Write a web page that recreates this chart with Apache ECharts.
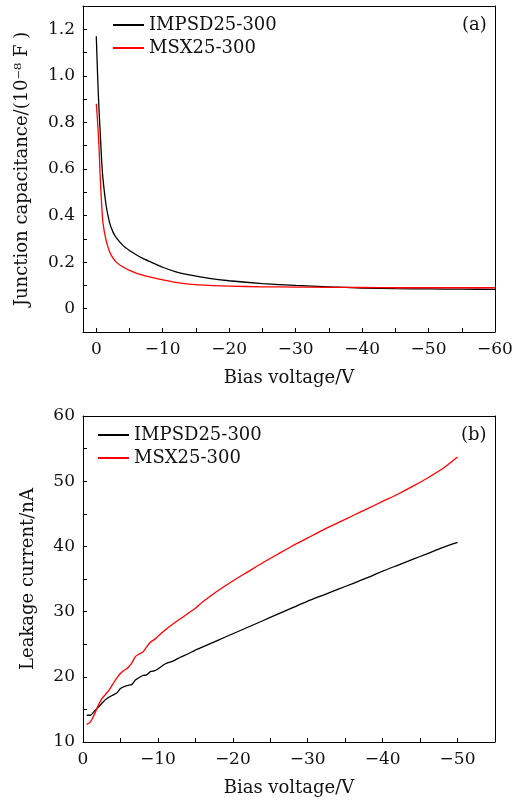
<!DOCTYPE html>
<html><head><meta charset="utf-8">
<script src="https://cdn.jsdelivr.net/npm/echarts@6/dist/echarts.min.js"></script>
<style>html,body{margin:0;padding:0;background:#fff}#c{width:527px;height:800px}</style>
</head><body><div id="c"></div>
<script>
// Panel (a): junction capacitance vs bias voltage
const capVoltage = [0, -0.2, -0.4, -0.6, -0.8, -1, -1.5, -2, -2.5, -3, -4, -5, -6, -7, -8, -10, -12, -14, -17, -20, -25, -30, -35, -40, -45, -50, -55, -60];
const capIMPSD = [1.17, 1.0, 0.86, 0.75, 0.64, 0.56, 0.44, 0.37, 0.33, 0.305, 0.272, 0.25, 0.232, 0.216, 0.203, 0.178, 0.158, 0.145, 0.13, 0.12, 0.108, 0.1, 0.094, 0.089, 0.086, 0.085, 0.084, 0.083];
const capMSX = [0.88, 0.8, 0.7, 0.56, 0.45, 0.37, 0.29, 0.245, 0.218, 0.2, 0.179, 0.165, 0.153, 0.144, 0.137, 0.124, 0.113, 0.106, 0.1, 0.097, 0.094, 0.093, 0.092, 0.091, 0.09, 0.09, 0.09, 0.09];
// Panel (b): leakage current vs bias voltage
const leakVoltage = [-0.5, -1, -1.5, -2, -2.5, -3, -3.5, -4, -4.5, -5, -5.5, -6, -6.5, -7, -7.5, -8, -8.5, -9, -9.5, -10, -11, -12, -13, -14, -15, -16, -18, -20, -22, -24, -26, -28, -30, -32, -34, -36, -38, -40, -42, -44, -46, -48, -50];
const leakIMPSD = [14.1, 14.1, 14.7, 15.3, 15.9, 16.5, 16.9, 17.2, 17.5, 18.2, 18.5, 18.7, 18.8, 19.5, 19.9, 20.2, 20.3, 20.8, 20.9, 21.2, 22.0, 22.4, 23.0, 23.5, 24.1, 24.6, 25.6, 26.6, 27.6, 28.6, 29.6, 30.6, 31.6, 32.5, 33.4, 34.3, 35.2, 36.2, 37.1, 38.0, 38.9, 39.8, 40.6];
const leakMSX = [12.7, 13.1, 14.2, 15.5, 16.6, 17.3, 18.0, 18.9, 19.8, 20.5, 21.0, 21.4, 22.1, 23.1, 23.5, 23.8, 24.6, 25.3, 25.7, 26.2, 27.2, 28.1, 28.9, 29.7, 30.5, 31.5, 33.2, 34.7, 36.1, 37.5, 38.8, 40.1, 41.3, 42.5, 43.6, 44.7, 45.8, 46.9, 48.0, 49.2, 50.5, 51.9, 53.7];
// Axis ranges / tick steps (labels every 10 V, every 0.2 and every 10 nA)
const xRangeA = [-60, 2], xStepA = 5;
const yRangeA = [-0.1, 1.3], yStepA = 0.1;
const xRangeB = [-55, 0], xStepB = 5;
const yRangeB = [10, 60], yStepB = 5;
const names = ['IMPSD25-300', 'MSX25-300'];

const F = 'DejaVu Serif';
const pair = (xs, ys) => xs.map((x, i) => [x, ys[i]]);
const xFmt = v => {
  const r = Math.round(v);
  if (r > 0 || Math.abs(r) % 10 !== 0) return '';
  return r === 0 ? '0' : '\u2212' + Math.abs(r);
};
const fmtA = v => {
  const t = Math.round(v * 10);
  if (t < 0 || t % 2 !== 0) return '';
  return t === 0 ? '0' : (t / 10).toFixed(1);
};
const fmtB = v => {
  const r = Math.round(v);
  return r % 10 === 0 ? String(r) : '';
};
const blk = {color: '#000', width: 1};

function xAxis(grid, range, step, zeroRef) {
  return {
    type: 'value', gridIndex: grid, inverse: true, min: range[0], max: range[1], interval: step, position: 'bottom',
    splitLine: {show: false},
    axisLine: {show: true, onZero: true, onZeroAxisIndex: zeroRef, lineStyle: blk},
    axisTick: {show: true, inside: true, length: 4, lineStyle: blk},
    axisLabel: {formatter: xFmt, color: '#111', fontFamily: F, fontSize: 17, margin: 9, showMinLabel: true, showMaxLabel: true, hideOverlap: false},
    name: 'Bias voltage/V', nameLocation: 'middle', nameGap: 37,
    nameTextStyle: {fontFamily: F, fontSize: 18, color: '#111'}, z: 10
  };
}
function yAxis(grid, range, step, fmt, name, nameGap, zeroRef) {
  return {
    type: 'value', gridIndex: grid, min: range[0], max: range[1], interval: step, position: 'left',
    splitLine: {show: false},
    axisLine: {show: true, onZero: true, onZeroAxisIndex: zeroRef, lineStyle: blk},
    axisTick: {show: true, inside: true, length: 4, lineStyle: blk},
    axisLabel: {formatter: fmt, color: '#111', fontFamily: F, fontSize: 17, margin: 8, showMinLabel: true, showMaxLabel: true, hideOverlap: false},
    name: name, nameLocation: 'middle', nameGap: nameGap, nameRotate: 90,
    nameTextStyle: {fontFamily: F, fontSize: 18, color: '#111'}, z: 10
  };
}
function frameAxis(grid, pos, inverse) {
  return {
    type: 'value', gridIndex: grid, min: inverse ? -1 : 0, max: inverse ? 0 : 1, position: pos, inverse: inverse,
    splitLine: {show: false}, axisLine: {show: true, onZero: false, lineStyle: blk},
    axisTick: {show: false}, axisLabel: {show: false}
  };
}

function line(name, color, idx, data) {
  return {name: name, type: 'line', xAxisIndex: idx, yAxisIndex: idx, data: data, symbol: 'none', showSymbol: false,
    smooth: 0.2, lineStyle: {color: color, width: 1.3}, itemStyle: {color: color}, animation: false, z: 3};
}
const legendBase = {data: names, orient: 'vertical', padding: 0, itemWidth: 31, itemHeight: 2, itemGap: 5,
  icon: 'rect', textStyle: {fontFamily: F, fontSize: 18, color: '#111'}, selectedMode: false};

const chart = echarts.init(document.getElementById('c'), null, {renderer: 'canvas'});
chart.setOption({
  animation: false,
  grid: [
    {left: 83, right: 32, top: 6, height: 326, show: false},
    {left: 83, right: 32, top: 416, height: 326, show: false}
  ],
  xAxis: [xAxis(0, xRangeA, xStepA, 2), xAxis(1, xRangeB, xStepB, 3),
          frameAxis(0, 'top', true), frameAxis(1, 'top', true)],
  yAxis: [yAxis(0, yRangeA, yStepA, fmtA, 'Junction capacitance/(10\u207B\u2078 F )', 52, 2),
          yAxis(1, yRangeB, yStepB, fmtB, 'Leakage current/nA', 46, 3),
          frameAxis(0, 'right', false), frameAxis(1, 'right', false)],
  legend: [
    Object.assign({}, legendBase, {left: 113, top: 16}),
    Object.assign({}, legendBase, {left: 98, top: 426})
  ],
  graphic: [
    {type: 'text', left: 462, top: 16, style: {text: '(a)', font: '18px "DejaVu Serif"', fill: '#111'}},
    {type: 'text', left: 461, top: 426, style: {text: '(b)', font: '18px "DejaVu Serif"', fill: '#111'}}
  ],
  series: [
    line(names[0], '#000000', 0, pair(capVoltage, capIMPSD)),
    line(names[1], '#ff0000', 0, pair(capVoltage, capMSX)),
    line(names[0], '#000000', 1, pair(leakVoltage, leakIMPSD)),
    line(names[1], '#ff0000', 1, pair(leakVoltage, leakMSX))
  ]
});
</script></body></html>
